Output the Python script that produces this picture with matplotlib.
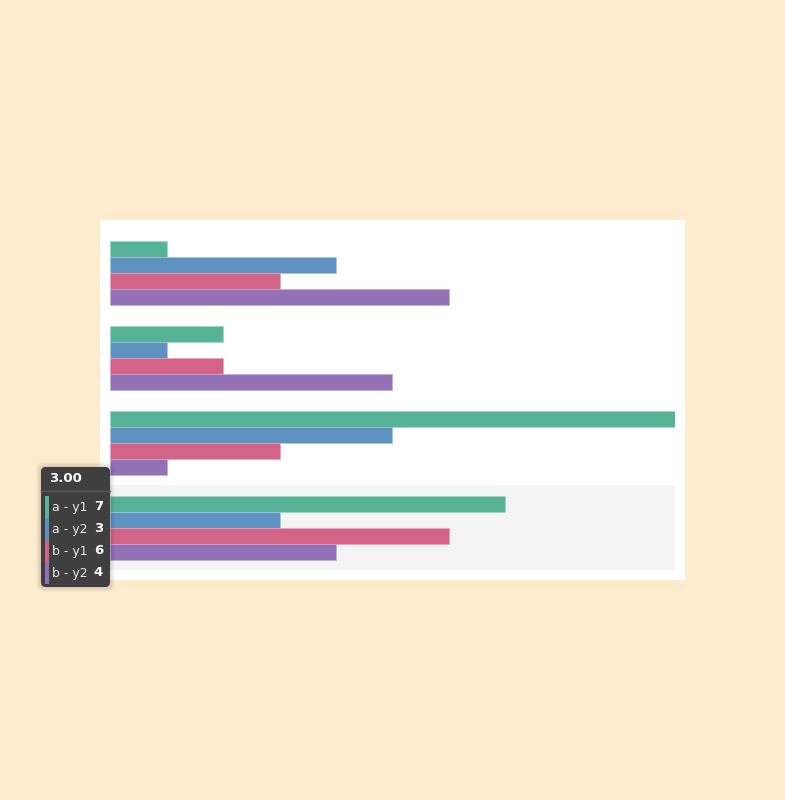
import matplotlib.pyplot as plt
from matplotlib.patches import Rectangle, FancyBboxPatch
import numpy as np

# data
categories = [0, 1, 2, 3]
series_names = ["a - y1", "a - y2", "b - y1", "b - y2"]
a_y1 = [1, 2, 10, 7]
a_y2 = [4, 1, 5, 3]
b_y1 = [3, 2, 3, 6]
b_y2 = [6, 5, 1, 4]
colors = ["#56b397", "#5e92c0", "#d36387", "#9271b7"]
edge_colors = ["#9fd6c4", "#a9c4dc", "#e6a3ba", "#c2aed8"]
hover_idx = 3

W, H = 785, 800
fig = plt.figure(figsize=(W / 100, H / 100), dpi=100)
fig.patch.set_facecolor("#ffebcd")

# white panel behind the grid
fig.patches.append(Rectangle((100 / W, 1 - 580 / H), 585 / W, 360 / H,
                             transform=fig.transFigure, facecolor="white",
                             edgecolor="none", zorder=-1))

ax = fig.add_axes([110 / W, 1 - 570 / H, 565 / W, 340 / H])
ax.set_facecolor("none")
ax.set_xlim(0, 10)
ax.set_ylim(3.5, -0.5)
ax.axis("off")

# hover band
ax.axhspan(hover_idx - 0.5, hover_idx + 0.5, color="#f4f4f4", zorder=0)

series = [a_y1, a_y2, b_y1, b_y2]
bh = 16 / 85
y = np.array(categories, dtype=float)
for i, vals in enumerate(series):
    off = -0.5 + 10.5 / 85 + bh * i + bh / 2
    ax.barh(y + off, vals, height=bh, color=colors[i],
            edgecolor=edge_colors[i], linewidth=0.5, zorder=2)

# tooltip
tx0, ty0, tw, th = 41, 467, 69, 120
for k in range(6, 0, -1):
    fig.patches.append(FancyBboxPatch(
        ((tx0 - k * 0.8) / W, 1 - (ty0 + th + k * 0.8) / H),
        (tw + k * 1.6) / W, (th + k * 1.6) / H,
        boxstyle="round,pad=0,rounding_size=0.008",
        transform=fig.transFigure, facecolor="black", edgecolor="none",
        alpha=0.025, zorder=5))
fig.patches.append(FancyBboxPatch((tx0 / W, 1 - (ty0 + th) / H), tw / W, th / H,
                                  boxstyle="round,pad=0,rounding_size=0.006",
                                  transform=fig.transFigure, facecolor="#3f3f3f",
                                  edgecolor="none", zorder=6))
fig.text(49 / W, 1 - 479 / H, f"{categories[hover_idx]:.2f}", color="white",
         fontsize=9.5, fontweight="bold", va="center", ha="left", zorder=7)
fig.lines.append(plt.Line2D([tx0 / W, (tx0 + tw) / W], [1 - 491 / H, 1 - 491 / H],
                            transform=fig.transFigure, color="#5a5a5a",
                            linewidth=1, zorder=7))
for i, name in enumerate(series_names):
    yc = 507 + 22 * i
    fig.patches.append(Rectangle((45 / W, 1 - (yc + 11) / H), 3.5 / W, 22 / H,
                                 transform=fig.transFigure, facecolor=colors[i],
                                 edgecolor="none", zorder=7))
    fig.text(52 / W, 1 - yc / H, name, color="#e8e8e8", fontsize=9,
             va="center", ha="left", zorder=8)
    fig.text(103 / W, 1 - yc / H, str(series[i][hover_idx]), color="white",
             fontsize=9.5, fontweight="bold", va="center", ha="right", zorder=8)

fig.savefig("out.png", dpi=100, facecolor=fig.get_facecolor())
